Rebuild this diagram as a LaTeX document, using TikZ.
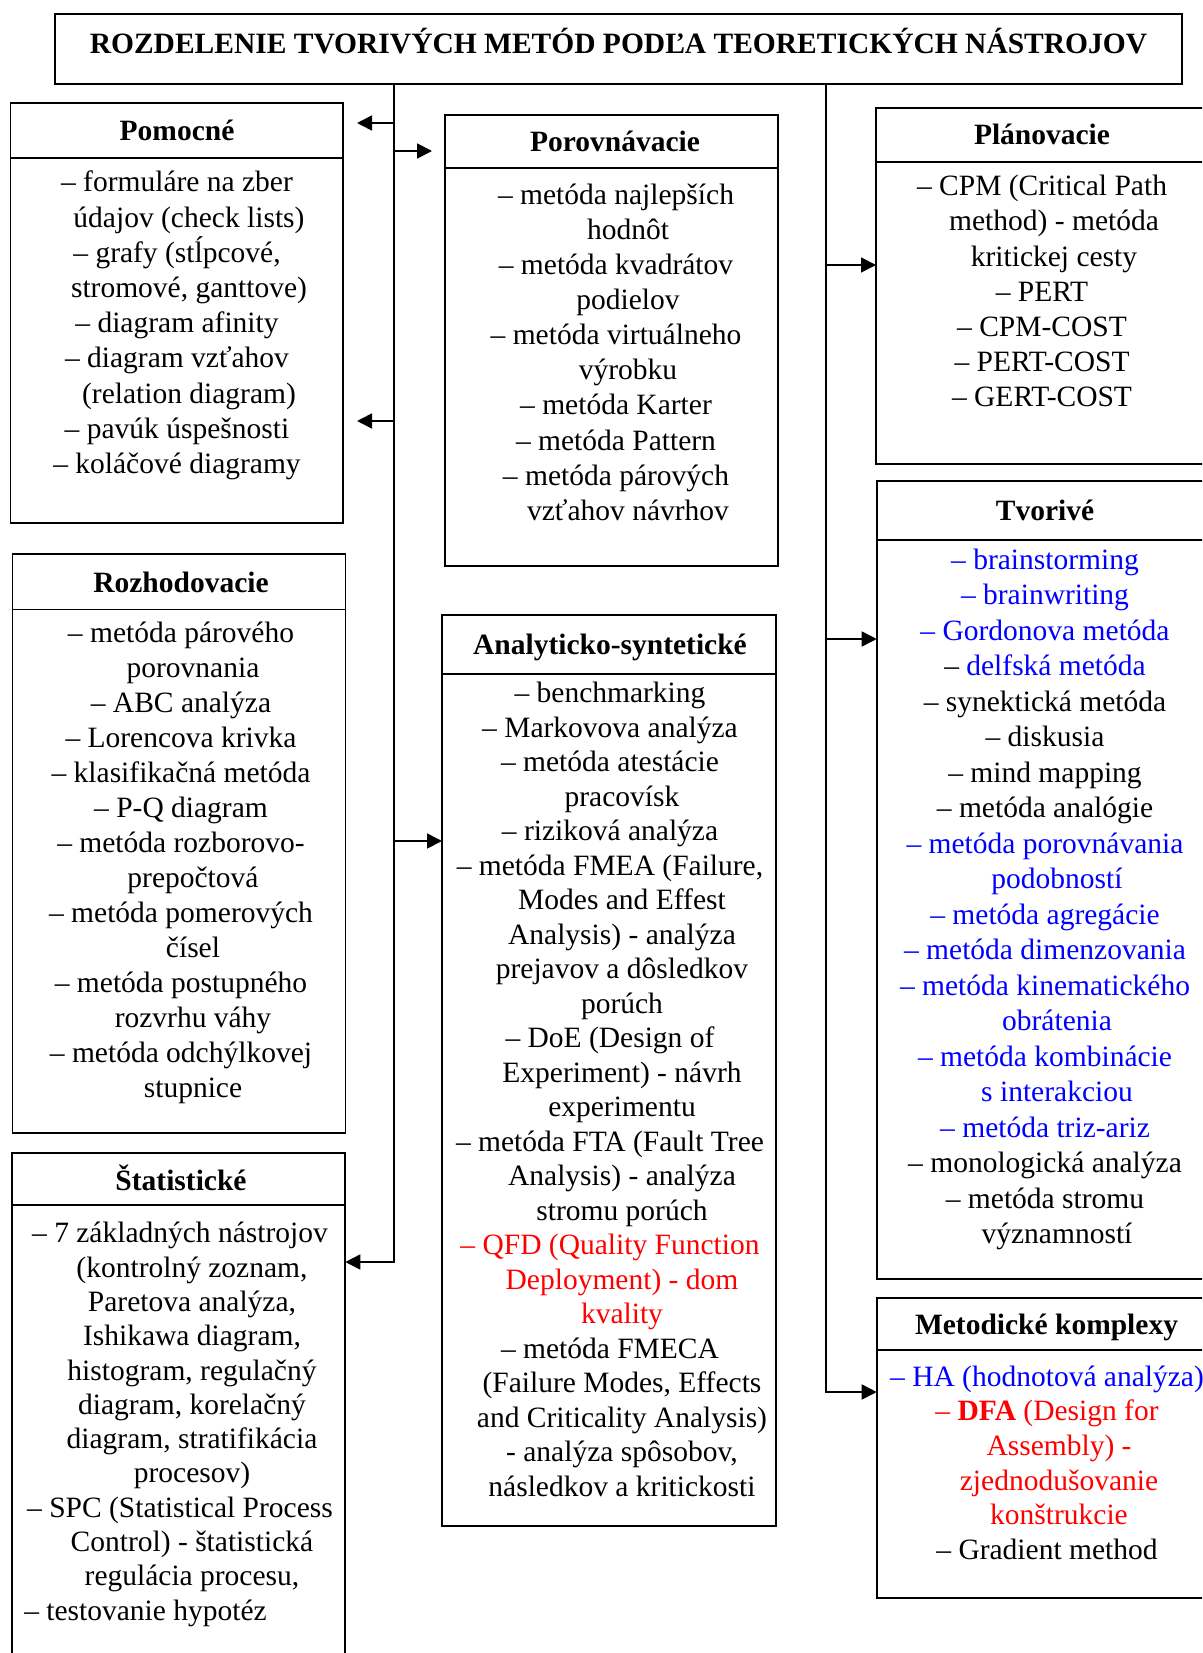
\documentclass[tikz,border=0pt]{standalone}
\usepackage{fontspec}
\setmainfont{Liberation Serif}
\usetikzlibrary{arrows.meta}
% indent of a wrapped (continuation) line of an item
\newcommand\cn{\hspace*{24pt}}
% strut fixing the top of the first line of a list
\newcommand\fl{\rule{0pt}{26pt}}
\begin{document}
\begin{tikzpicture}[x=1pt,y=-1pt,
  line width=1.7pt,
  box/.style={draw, line width=1.7pt, anchor=north west, inner sep=0pt, outer sep=0pt},
  head/.style={anchor=base, inner sep=0pt, font=\fontsize{29.5}{35}\selectfont\bfseries},
  body/.style={anchor=north, inner sep=0pt, align=center, font=\fontsize{29.5}{#1}\selectfont},
  arr/.style={-{Triangle[length=15pt,width=15pt]}}]
\useasboundingbox (0,0) rectangle (1202,1653);
\clip (0,0) rectangle (1202,1653);

% ---- title ----
\node[box, minimum width=1127pt, minimum height=70pt] (title) at (55,14) {};
\node[head] (titletxt) at (618.5,53.5) {ROZDELENIE TVORIVÝCH METÓD PODĽA TEORETICKÝCH NÁSTROJOV};

% ---- boxes ----
\node[box, minimum width=332.5pt, minimum height=419.7pt] (pom) at (10.5,103.3) {};
\draw ([yshift=-54.4pt]pom.north west) -- ([yshift=-54.4pt]pom.north east);
\node[box, minimum width=333pt, minimum height=451pt] (por) at (445,115) {};
\draw ([yshift=-53pt]por.north west) -- ([yshift=-53pt]por.north east);
\node[box, minimum width=334pt, minimum height=356pt] (pla) at (876,107.7) {};
\draw ([yshift=-54.3pt]pla.north west) -- ([yshift=-54.3pt]pla.north east);
\node[box, minimum width=334pt, minimum height=798pt] (tvo) at (876.7,480.7) {};
\draw ([yshift=-59.3pt]tvo.north west) -- ([yshift=-59.3pt]tvo.north east);
\node[box, minimum width=334pt, minimum height=300pt] (met) at (876.7,1297.7) {};
\draw ([yshift=-52.3pt]met.north west) -- ([yshift=-52.3pt]met.north east);
\node[box, minimum width=333pt, minimum height=579pt] (roz) at (12.5,554) {};
\draw ([yshift=-55.5pt]roz.north west) -- ([yshift=-55.5pt]roz.north east);
\node[box, minimum width=334pt, minimum height=911pt] (ana) at (442,615) {};
\draw ([yshift=-59pt]ana.north west) -- ([yshift=-59pt]ana.north east);
\node[box, minimum width=333pt, minimum height=520pt] (sta) at (12.3,1153.3) {};
\draw ([yshift=-51.7pt]sta.north west) -- ([yshift=-51.7pt]sta.north east);

% ---- headings ----
\node[head] (pomh) at (177,140.5) {Pomocné};
\node[head] (porh) at (615,151.5) {Porovnávacie};
\node[head] (plah) at (1042,145) {Plánovacie};
\node[head] (tvoh) at (1045,520) {Tvorivé};
\node[head] (meth) at (1046.5,1334.5) {Metodické komplexy};
\node[head] (rozh) at (181,592) {Rozhodovacie};
\node[head] (anah) at (610,654.5) {Analyticko-syntetické};
\node[head] (stah) at (181,1190) {Štatistické};

% ---- lists ----
\node[body=35.2] (pomb) at (177,165) {\fl– formuláre na zber\\
\cn údajov (check lists)\\
– grafy (stĺpcové,\\
\cn stromové, ganttove)\\
– diagram afinity\\
– diagram vzťahov\\
\cn (relation diagram)\\
– pavúk úspešnosti\\
– koláčové diagramy};

\node[body=35.1] (porb) at (616,177.5) {\fl– metóda najlepších\\
\cn hodnôt\\
– metóda kvadrátov\\
\cn podielov\\
– metóda virtuálneho\\
\cn výrobku\\
– metóda Karter\\
– metóda Pattern\\
– metóda párových\\
\cn vzťahov návrhov};

\node[body=35.1] (plab) at (1042,169) {\fl– CPM (Critical Path\\
\cn method) - metóda\\
\cn kritickej cesty\\
– PERT\\
– CPM-COST\\
– PERT-COST\\
– GERT-COST};

\node[body=35.5] (tvob) at (1045,542.4) {\fl{\color{blue}– brainstorming}\\
{\color{blue}– brainwriting}\\
{\color{blue}– Gordonova metóda}\\
– {\color{blue}delfská metóda}\\
– synektická metóda\\
– diskusia\\
– mind mapping\\
– metóda analógie\\
{\color{blue}– metóda porovnávania}\\
{\color{blue}\cn podobností}\\
{\color{blue}– metóda agregácie}\\
{\color{blue}– metóda dimenzovania}\\
{\color{blue}– metóda kinematického}\\
{\color{blue}\cn obrátenia}\\
{\color{blue}– metóda kombinácie}\\
{\color{blue}\cn s interakciou}\\
{\color{blue}– metóda triz-ariz}\\
– monologická analýza\\
– metóda stromu\\
\cn významností};

\node[body=34.7] (metb) at (1047,1359.3) {\fl{\color{blue}– HA (hodnotová analýza)}\\
{\color{red}– \textbf{DFA} (Design for}\\
{\color{red}\cn Assembly) -}\\
{\color{red}\cn zjednodušovanie}\\
{\color{red}\cn konštrukcie}\\
– Gradient method};

\node[body=35.0] (rozb) at (181,615.5) {\fl– metóda párového\\
\cn porovnania\\
– ABC analýza\\
– Lorencova krivka\\
– klasifikačná metóda\\
– P-Q diagram\\
– metóda rozborovo-\\
\cn prepočtová\\
– metóda pomerových\\
\cn čísel\\
– metóda postupného\\
\cn rozvrhu váhy\\
– metóda odchýlkovej\\
\cn stupnice};

\node[body=34.5] (anab) at (610,676) {\fl– benchmarking\\
– Markovova analýza\\
– metóda atestácie\\
\cn pracovísk\\
– riziková analýza\\
– metóda FMEA (Failure,\\
\cn Modes and Effest\\
\cn Analysis) - analýza\\
\cn prejavov a dôsledkov\\
\cn porúch\\
– DoE (Design of\\
\cn Experiment) - návrh\\
\cn experimentu\\
– metóda FTA (Fault Tree\\
\cn Analysis) - analýza\\
\cn stromu porúch\\
{\color{red}– QFD (Quality Function}\\
{\color{red}\cn Deployment) - dom}\\
{\color{red}\cn kvality}\\
– metóda FMECA\\
\cn (Failure Modes, Effects\\
\cn and Criticality Analysis)\\
\cn - analýza spôsobov,\\
\cn následkov a kritickosti};

\node[body=34.3] (stab) at (180,1216) {\fl– 7 základných nástrojov\\
\cn (kontrolný zoznam,\\
\cn Paretova analýza,\\
\cn Ishikawa diagram,\\
\cn histogram, regulačný\\
\cn diagram, korelačný\\
\cn diagram, stratifikácia\\
\cn procesov)\\
– SPC (Statistical Process\\
\cn Control) - štatistická\\
\cn regulácia procesu,\\
– testovanie hypotéz\hspace*{69pt}};

% ---- connectors ----
\coordinate (t1s) at (394,84);
\coordinate (t1e) at (394,1262);
\coordinate (t2s) at (826,84);
\coordinate (t2e) at (826,1392);
\draw[arr] (t1s) -- (t1e) -- (t1e -| sta.east);
\draw[arr] (t2s) -- (t2e) -- (t2e -| met.west);

\coordinate (a1) at (394,123);  \coordinate (a1t) at (357,123);
\coordinate (a2) at (394,151);  \coordinate (a2t) at (432,151);
\coordinate (a3) at (394,421);  \coordinate (a3t) at (357,421);
\coordinate (a4) at (394,841);
\draw[arr] (a1) -- (a1t);
\draw[arr] (a2) -- (a2t);
\draw[arr] (a3) -- (a3t);
\draw[arr] (a4) -- (a4 -| ana.west);

\coordinate (b1) at (826,265);
\coordinate (b2) at (826,639);
\draw[arr] (b1) -- (b1 -| pla.west);
\draw[arr] (b2) -- (b2 -| tvo.west);
\end{tikzpicture}
\end{document}
